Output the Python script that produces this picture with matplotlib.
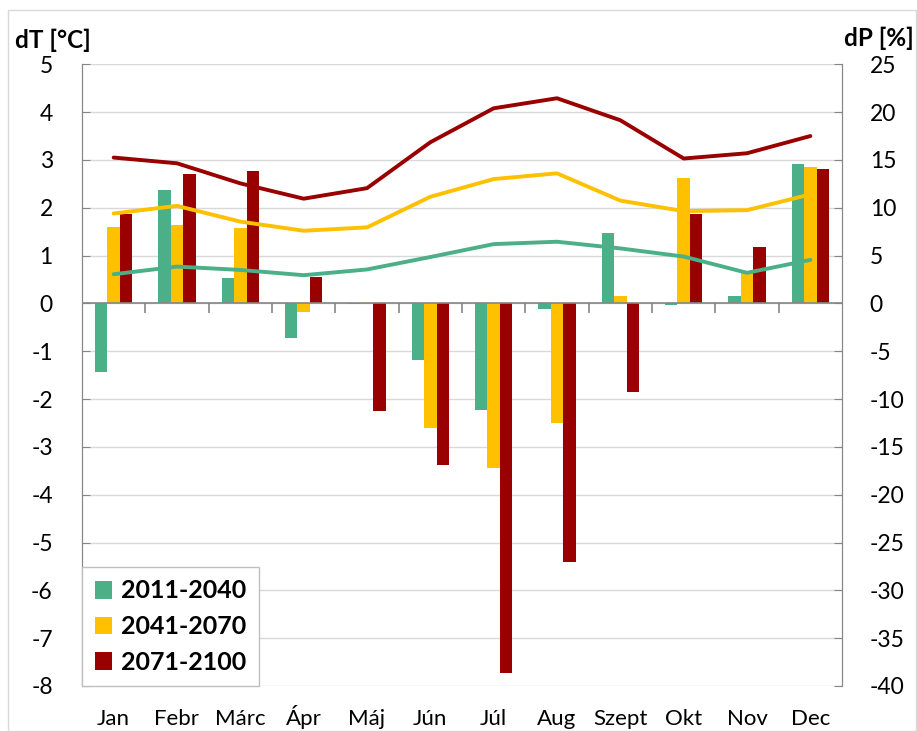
import matplotlib.pyplot as plt
import numpy as np
from matplotlib.patches import Rectangle

plt.rcParams['font.family'] = ['Lato', 'DejaVu Sans']
plt.rcParams['axes.unicode_minus'] = False

months = ['Jan', 'Febr', 'Márc', 'Ápr', 'Máj', 'Jún', 'Júl', 'Aug', 'Szept', 'Okt', 'Nov', 'Dec']
periods = ['2011-2040', '2041-2070', '2071-2100']
colors = ['#4BAF88', '#FFC000', '#990000']

# precipitation change [%] -> bars (right axis)
dP_2011 = [-7.2, 11.9, 2.7, -3.6, -0.1, -5.9, -11.1, -0.6, 7.4, -0.2, 0.8, 14.6]
dP_2041 = [8.0, 8.2, 7.9, -0.9, -0.1, -13.0, -17.2, -12.5, 0.8, 13.1, 3.2, 14.3]
dP_2071 = [9.3, 13.5, 13.8, 2.8, -11.2, -16.9, -38.6, -27.0, -9.3, 9.4, 5.9, 14.1]

# temperature change [°C] -> lines (left axis)
dT_2011 = [0.61, 0.77, 0.70, 0.59, 0.71, 0.97, 1.24, 1.29, 1.15, 0.98, 0.64, 0.91]
dT_2041 = [1.88, 2.04, 1.71, 1.52, 1.59, 2.23, 2.60, 2.72, 2.15, 1.93, 1.95, 2.28]
dT_2071 = [3.05, 2.93, 2.51, 2.19, 2.41, 3.37, 4.08, 4.29, 3.83, 3.03, 3.14, 3.50]

fig = plt.figure(figsize=(9.17, 7.31), dpi=100)
ax = fig.add_axes([82/917, 1 - 686/731, 760/917, 621.7/731])
ax2 = ax.twinx()

x = np.arange(len(months))
w = 0.196
bars = []
for i, (vals, c, lab) in enumerate(zip([dP_2011, dP_2041, dP_2071], colors, periods)):
    b = ax.bar(x + (i - 1) * w, vals, w, color=c, label=lab, zorder=2)
    bars.append(b)

for vals, c in zip([dT_2011, dT_2041, dT_2071], colors):
    ax2.plot(x, vals, color=c, lw=2.8, solid_capstyle='round', solid_joinstyle='round')

ax.set_xlim(-0.5, 11.5)
ax.set_ylim(-40, 25)
ax.set_yticks(range(-40, 26, 5))
ax.yaxis.tick_right()
ax.grid(axis='y', color='#d9d9d9', lw=1)
ax.set_axisbelow(True)
ax.set_xticks(x, months)
ax.tick_params(axis='x', length=0, pad=28, labelsize=16)
for lbl in ax.get_xticklabels():
    lbl.set_va('baseline')
ax.tick_params(axis='y', direction='in', length=6, color='#868686', pad=20, labelsize=16.5,
               right=True, left=False)

# category axis at zero with tick marks between months
ax.axhline(0, color='#868686', lw=1.2, zorder=3)
ax.vlines(np.arange(0.5, 11, 1), -0.95, 0, color='#868686', lw=1.2, zorder=3)

ax2.set_ylim(-8, 5)
ax2.set_yticks(range(-8, 6))
ax2.yaxis.tick_left()
ax2.tick_params(axis='y', direction='in', length=6, color='#868686', pad=21, labelsize=16.5,
                left=True, right=False)

for a in (ax, ax2):
    a.spines['top'].set_visible(False)
    a.spines['bottom'].set_visible(False)
    a.spines['left'].set_color('#868686')
    a.spines['right'].set_color('#868686')

fig.text(15/917, 1 - 40/731, 'dT [°C]', fontweight='bold', fontsize=17.5, va='center')
fig.text(914/917, 1 - 38/731, 'dP [%]', fontweight='bold', fontsize=17.5, va='center', ha='right')

leg = ax2.legend(bars, periods, loc='lower left', bbox_to_anchor=(0, 0), borderaxespad=0,
                 fancybox=False, edgecolor='#bfbfbf', framealpha=1,
                 prop={'weight': 'bold', 'size': 18}, handlelength=0.7, handleheight=0.7,
                 handletextpad=0.35, labelspacing=0.5, borderpad=0.5)

fig.patches.append(Rectangle((8/917, 0), 908/917, 1 - 10/731, transform=fig.transFigure,
                             fill=False, edgecolor='#d9d9d9', lw=1))

fig.savefig('out.png', dpi=100)
